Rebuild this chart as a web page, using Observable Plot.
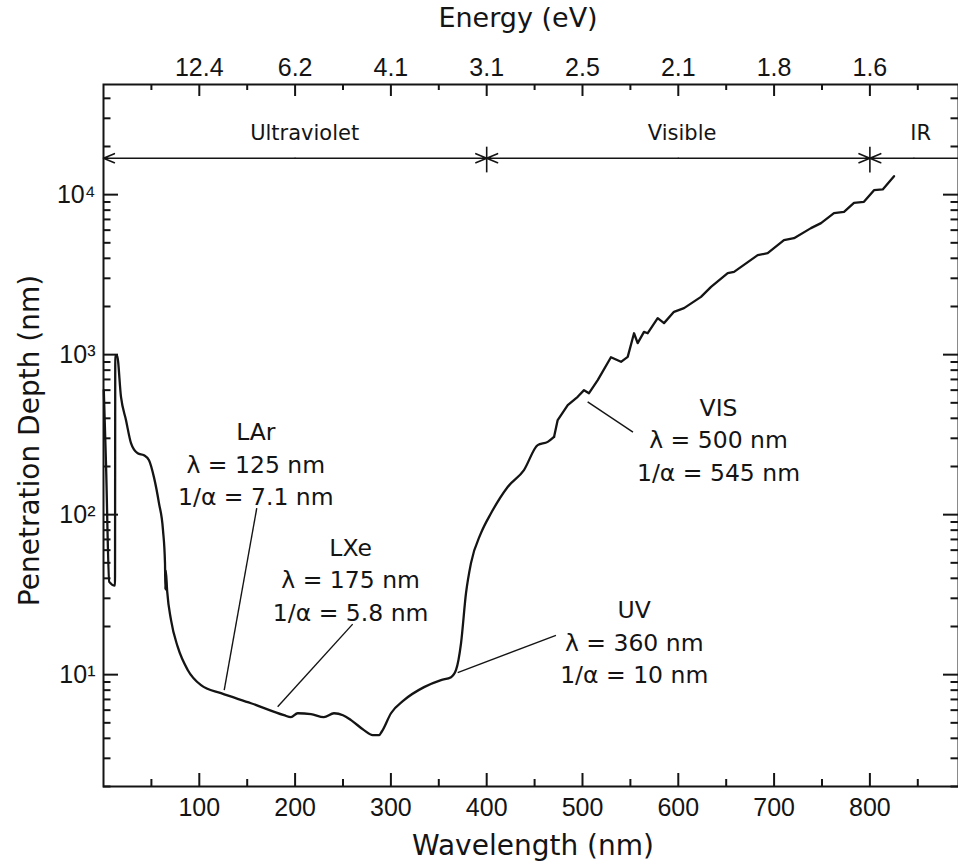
<!DOCTYPE html>
<html>
<head>
<meta charset="utf-8">
<script src="https://cdn.jsdelivr.net/npm/d3@7"></script>
<script src="https://cdn.jsdelivr.net/npm/@observablehq/plot@0.6"></script>
<style>
  html, body { margin: 0; padding: 0; background: #fff; }
  #chart { width: 958px; height: 866px; }
</style>
</head>
<body>
<div id="chart"></div>
<script>
// ---- data ----
const wavelength = [
  0.3, 2.6, 6.0, 12.0, 12.3, 14.1, 18.3, 23.5, 28.7, 35.7,
  42.3, 47.5, 52.7, 57.9, 62.1, 64.2, 64.6, 65.0, 66.5, 70.5,
  77.5, 87.9, 101.8, 122.7, 154, 188.4, 195.7, 202.7, 216.6, 230,
  240.6, 250, 258.4, 271.9, 281, 287.6, 290.7, 300.1, 313.7, 334.6,
  352.3, 362.8, 368, 373.2, 378.4, 383.6, 394, 404.5, 421.9, 438.9,
  453.2, 463.7, 470.3, 474.1, 484.6, 495, 501.6, 506.8, 515.9, 529.7,
  540.2, 547.2, 553.8, 557.6, 564.2, 568.1, 578.5, 585.1, 595.5, 606,
  623.7, 634.2, 651.6, 658.2, 682.9, 693.3, 710.3, 720.8, 738.5, 749,
  762.5, 773, 783.4, 793.8, 804.3, 813.4, 825.2
];
const depth = [
  600, 210, 38, 36, 990, 990, 542, 389, 280, 242,
  235, 219, 171, 118, 80, 49.7, 34, 45, 33, 21.9,
  14.9, 10.7, 8.59, 7.66, 6.63, 5.58, 5.42, 5.74, 5.67, 5.42,
  5.74, 5.58, 5.2, 4.5, 4.19, 4.19, 4.43, 5.74, 6.93, 8.36,
  9.25, 9.65, 10.7, 15.7, 32.3, 49.8, 76.6, 102, 149, 190,
  272, 285, 306, 390, 484, 545, 600, 574, 693, 964,
  902, 969, 1361, 1180, 1387, 1361, 1691, 1574, 1852, 1953,
  2298, 2652, 3230, 3290, 4186, 4305, 5196, 5348, 6177, 6640,
  7664, 7809, 8893, 9020, 10670, 10780, 13050
];
// the measured curve is smooth below this wavelength and jagged above it
const smoothLimit = 470.3;

const xMajor = [100, 200, 300, 400, 500, 600, 700, 800];
const xMinor = [50, 150, 250, 350, 450, 550, 650, 750, 850];
const energyLabels = ["12.4", "6.2", "4.1", "3.1", "2.5", "2.1", "1.8", "1.6"];
const yMajor = [10, 100, 1000, 10000];
const yMajorLabels = ["10\u00B9", "10\u00B2", "10\u00B3", "10\u2074"];
const yMinorMultipliers = [2, 3, 4, 5, 6, 7, 8, 9];
const yDecades = [1, 10, 100, 1000, 10000];

// annotations
const noteX = [159, 258, 554, 642];
const noteY = [213, 40.3, 16.4, 301];
const noteText = [
  "LAr\nλ = 125 nm\n1/α = 7.1 nm",
  "LXe\nλ = 175 nm\n1/α = 5.8 nm",
  "UV\nλ = 360 nm\n1/α = 10 nm",
  "VIS\nλ = 500 nm\n1/α = 545 nm"
];
// leader lines: label end -> curve end
const leadX1 = [160.0, 260.1, 472.3, 552.7];
const leadY1 = [110, 20.7, 17.6, 328];
const leadX2 = [126.0, 181.8, 369.7, 505.4];
const leadY2 = [8.0, 6.3, 10.3, 507];

// spectral regions
const regionNames = ["Ultraviolet", "Visible", "IR"];
const regionStart = [0, 400, 800];
const regionEnd = [400, 800, 892.5];
const regionMid = [200, 600, 846];
const regionLabelX = [210, 604, 853];
const regionArrowY = 16900;
const regionLabelY = 24200;
const regionBounds = [400, 800];
const boundTop = 19800, boundBottom = 13680;

// ---- build ----
const W = 958, H = 866;
const mL = 103, mR = 0, mT = 84, mB = 80;
const plotW = W - mL - mR, plotH = H - mT - mB;

const curve = wavelength.map((w, i) => ({w, d: depth[i]}));
const notes = noteText.map((t, i) => ({x: noteX[i], y: noteY[i], t}));
const leaders = leadX1.map((x, i) => ({x1: x, y1: leadY1[i], x2: leadX2[i], y2: leadY2[i]}));
const regions = regionNames.map((n, i) => ({n, s: regionStart[i], e: regionEnd[i], m: regionMid[i], lx: regionLabelX[i]}));
const halfArrows = [];
regions.forEach(r => {
  halfArrows.push({from: r.m, to: r.s, head: true});
  halfArrows.push({from: r.m, to: r.e, head: r.e <= 800});
});
const yMinor = [];
for (const dec of yDecades) for (const m of yMinorMultipliers) {
  const v = dec * m;
  if (v >= 2 && v <= 48000) yMinor.push(v);
}

const TICKFONT = "Liberation Sans, Arial, sans-serif";
const TXTFONT = "DejaVu Sans, Verdana, sans-serif";
const ink = "#141414";

const chart = Plot.plot({
  width: W, height: H,
  marginLeft: mL, marginRight: mR, marginTop: mT, marginBottom: mB,
  style: {background: "white", color: ink, fontFamily: TXTFONT, overflow: "visible"},
  x: {domain: [0, 892.5]},
  y: {type: "log", domain: [2, 48800]},
  marks: [
    // ticks (inward)
    Plot.ruleX(xMajor, {x: d => d, insetTop: plotH - 13, stroke: ink, strokeWidth: 2}),
    Plot.ruleX(xMinor, {x: d => d, insetTop: plotH - 7, stroke: ink, strokeWidth: 2}),
    Plot.ruleX(xMajor, {x: d => d, insetBottom: plotH - 12, stroke: ink, strokeWidth: 2}),
    Plot.ruleX(xMinor, {x: d => d, insetBottom: plotH - 6, stroke: ink, strokeWidth: 2}),
    Plot.ruleY(yMajor, {y: d => d, insetRight: plotW - 15, stroke: ink, strokeWidth: 2}),
    Plot.ruleY(yMinor, {y: d => d, insetRight: plotW - 7.5, stroke: ink, strokeWidth: 2}),
    Plot.ruleY(yMajor, {y: d => d, insetLeft: plotW - 15, stroke: ink, strokeWidth: 2}),
    Plot.ruleY(yMinor, {y: d => d, insetLeft: plotW - 7.5, stroke: ink, strokeWidth: 2}),
    Plot.frame({stroke: ink, strokeWidth: 2}),
    // axes labels
    Plot.axisX(xMajor, {anchor: "bottom", tickSize: 0, tickPadding: 12, fontSize: 25, fontFamily: TICKFONT, label: null}),
    Plot.axisX(xMajor, {anchor: "top", tickSize: 0, tickPadding: 9, fontSize: 25, fontFamily: TICKFONT, label: null,
      tickFormat: d => energyLabels[xMajor.indexOf(d)]}),
    Plot.axisY(yMajor, {anchor: "left", tickSize: 0, tickPadding: 8, fontSize: 25, fontFamily: TICKFONT, label: null,
      tickFormat: d => yMajorLabels[yMajor.indexOf(d)]}),
    // titles
    Plot.text(["Wavelength (nm)"], {text: d => d, frameAnchor: "bottom", dy: 60, dx: 2, fontSize: 28, lineAnchor: "middle", textAnchor: "middle", fill: ink}),
    Plot.text(["Energy (eV)"], {text: d => d, frameAnchor: "top", dy: -66, dx: -13, fontSize: 27, lineAnchor: "middle", textAnchor: "middle", fill: ink}),
    Plot.text(["Penetration Depth (nm)"], {text: d => d, frameAnchor: "left", dx: -73, dy: 5, rotate: -90, fontSize: 28, lineAnchor: "middle", textAnchor: "middle", fill: ink}),
    // regions
    Plot.arrow(halfArrows.filter(a => a.head), {x1: "from", x2: "to", y1: () => regionArrowY, y2: () => regionArrowY,
      stroke: ink, strokeWidth: 1.6, headLength: 11, headAngle: 45}),
    Plot.ruleY(halfArrows.filter(a => !a.head), {x1: "from", x2: "to", y: () => regionArrowY, stroke: ink, strokeWidth: 1.6}),
    Plot.ruleX(regionBounds, {x: d => d, y1: boundTop, y2: boundBottom, stroke: ink, strokeWidth: 1.6}),
    Plot.text(regions, {x: "lx", y: () => regionLabelY, text: "n", fontSize: 21, fill: ink}),
    // curve: smooth UV part, jagged visible part
    Plot.line(curve.filter(p => p.w <= smoothLimit), {x: "w", y: "d", stroke: ink, strokeWidth: 2.3, strokeLinejoin: "round", curve: "monotone-x"}),
    Plot.line(curve.filter(p => p.w >= smoothLimit), {x: "w", y: "d", stroke: ink, strokeWidth: 2.3, strokeLinejoin: "round"}),
    // annotations
    Plot.link(leaders, {x1: "x1", y1: "y1", x2: "x2", y2: "y2", stroke: ink, strokeWidth: 1.4}),
    Plot.text(notes, {x: "x", y: "y", text: "t", fontSize: 23.5, lineHeight: 1.38, lineAnchor: "middle", textAnchor: "middle", fill: ink})
  ]
});
document.getElementById("chart").appendChild(chart);
</script>
</body>
</html>
